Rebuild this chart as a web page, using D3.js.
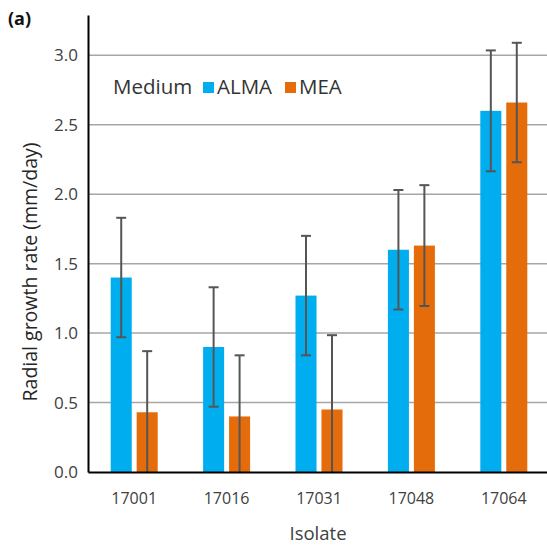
<!DOCTYPE html>
<html>
<head>
<meta charset="utf-8">
<script src="https://cdn.jsdelivr.net/npm/d3@7"></script>
<style>
	body { margin: 0; background: #fff; }
	svg { display: block; font-family: 'Open Sans', 'Noto Sans', sans-serif; }
</style>
</head>
<body>
<div class="chart"></div>
<script>
// data
const isolates = ['17001', '17016', '17031', '17048', '17064']
const media = ['ALMA', 'MEA']
const almaMean = [1.40, 0.90, 1.27, 1.60, 2.60]
const almaErr = [0.43, 0.43, 0.43, 0.43, 0.435]
const meaMean = [0.43, 0.40, 0.45, 1.63, 2.66]
const meaErr = [0.44, 0.44, 0.535, 0.435, 0.43]
const yTicks = [0, 0.5, 1, 1.5, 2, 2.5, 3]
const colors = ['#00aeef', '#e46c0a']

const width = 547
const height = 549
const margin = ({ top: 15, right: -3, bottom: 77, left: 88 })

const rows = []
isolates.forEach((iso, i) => {
	rows.push({ iso, medium: 'ALMA', mean: almaMean[i], err: almaErr[i] })
	rows.push({ iso, medium: 'MEA', mean: meaMean[i], err: meaErr[i] })
})

var svg = d3.select('.chart')
	.append('svg')
	.attr('width', width)
	.attr('height', height)

var xScale = d3.scaleBand()
	.domain(isolates)
	.range([margin.left, width - margin.right])

var xSub = d3.scaleBand()
	.domain(media)
	.range([-23.5, 23.5])
	.paddingInner(0.19)

var yScale = d3.scaleLinear()
	.domain([0, 3.29])
	.range([height - margin.bottom, margin.top])

var color = d3.scaleOrdinal().domain(media).range(colors)

// gridlines
svg.append('g')
	.selectAll('line')
	.data(yTicks.filter(d => d > 0))
	.join('line')
	.attr('x1', margin.left)
	.attr('x2', width)
	.attr('y1', d => yScale(d))
	.attr('y2', d => yScale(d))
	.attr('stroke', '#a6a6a6')
	.attr('stroke-width', 1.5)

// bars
svg.append('g')
	.selectAll('rect')
	.data(rows)
	.join('rect')
	.attr('x', d => xScale(d.iso) + xScale.bandwidth() / 2 + xSub(d.medium))
	.attr('width', xSub.bandwidth())
	.attr('y', d => yScale(d.mean))
	.attr('height', d => yScale(0) - yScale(d.mean))
	.attr('fill', d => color(d.medium))

// error bars
var errG = svg.append('g')
	.attr('stroke', '#555')
	.attr('stroke-width', 2)
	.selectAll('g')
	.data(rows)
	.join('g')
	.attr('transform', d => `translate(${xScale(d.iso) + xScale.bandwidth() / 2 + xSub(d.medium) + xSub.bandwidth() / 2},0)`)

errG.append('line')
	.attr('y1', d => yScale(d.mean + d.err))
	.attr('y2', d => yScale(Math.max(0, d.mean - d.err)))

errG.append('line')
	.attr('x1', -5).attr('x2', 5)
	.attr('y1', d => yScale(d.mean + d.err))
	.attr('y2', d => yScale(d.mean + d.err))

errG.filter(d => d.mean - d.err > 0)
	.append('line')
	.attr('x1', -5).attr('x2', 5)
	.attr('y1', d => yScale(d.mean - d.err))
	.attr('y2', d => yScale(d.mean - d.err))

// axes
var yAxis = d3.axisLeft(yScale)
	.tickValues(yTicks)
	.tickFormat(d3.format('.1f'))
	.tickSize(0)
	.tickPadding(10)

var yAxisGroup = svg.append('g')
	.attr('class', 'axis y-axis')
	.attr('transform', `translate(${margin.left},0)`)
	.call(yAxis)
	.attr('font-family', null)
	.attr('font-size', 17)
yAxisGroup.select('.domain').attr('stroke', '#000').attr('stroke-width', 2)
yAxisGroup.selectAll('text').attr('fill', '#404040')

var xAxis = d3.axisBottom(xScale)
	.tickSize(0)
	.tickPadding(21)

var xAxisGroup = svg.append('g')
	.attr('class', 'axis x-axis')
	.attr('transform', `translate(0,${yScale(0)})`)
	.call(xAxis)
	.attr('font-family', null)
	.attr('font-size', 16)
xAxisGroup.select('.domain').attr('stroke', '#000').attr('stroke-width', 2)
xAxisGroup.selectAll('text').attr('fill', '#404040')

// titles
svg.append('text')
	.attr('x', 318)
	.attr('y', 540)
	.attr('text-anchor', 'middle')
	.attr('font-size', 18.5)
	.attr('fill', '#404040')
	.text('Isolate')

svg.append('text')
	.attr('transform', 'translate(37,272) rotate(-90)')
	.attr('text-anchor', 'middle')
	.attr('font-size', 19.5)
	.attr('fill', '#262626')
	.text('Radial growth rate (mm/day)')

svg.append('text')
	.attr('x', 8)
	.attr('y', 25)
	.attr('font-size', 18)
	.attr('font-weight', 'bold')
	.attr('fill', '#111')
	.text('(a)')

// legend
var legend = svg.append('g')
	.attr('transform', 'translate(113,94)')

legend.append('text')
	.attr('font-size', 20.5)
	.attr('fill', '#333')
	.text('Medium')

var legendX = [90, 172]
var item = legend.selectAll('.item')
	.data(media)
	.join('g')
	.attr('class', 'item')
	.attr('transform', (d, i) => `translate(${legendX[i]},0)`)

item.append('rect')
	.attr('y', -12)
	.attr('width', 11)
	.attr('height', 11)
	.attr('fill', d => color(d))

item.append('text')
	.attr('x', 14)
	.attr('font-size', 20.5)
	.attr('fill', '#333')
	.text(d => d)
</script>
</body>
</html>
